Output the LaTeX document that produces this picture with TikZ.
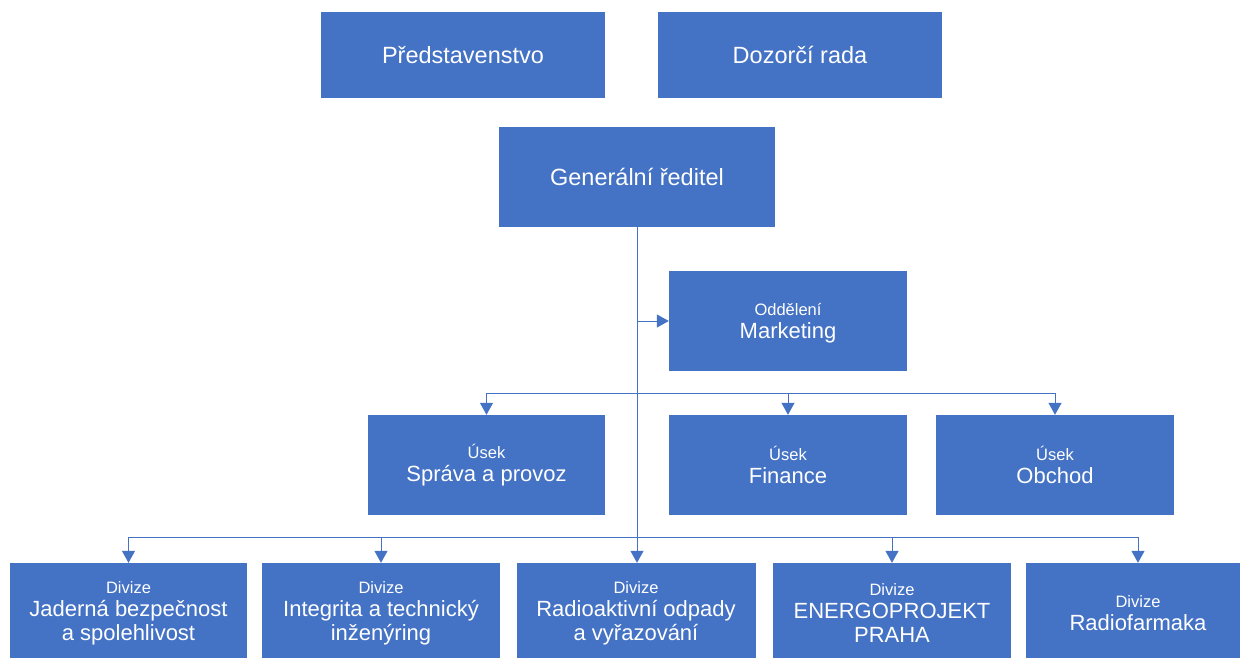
\documentclass[tikz,border=0pt]{standalone}
\usepackage{fontspec}
\setmainfont{Liberation Sans}
\usetikzlibrary{arrows.meta}
\definecolor{boxblue}{HTML}{4472C4}
\definecolor{lineblue}{HTML}{4472C4}
\tikzset{
  orgbox/.style={fill=boxblue, text=white, inner sep=0pt, align=center,
    minimum width=#1, minimum height=100pt, font=\fontsize{22}{26}\selectfont},
  topbox/.style={orgbox=#1, minimum height=86pt, font=\fontsize{23.5}{28}\selectfont},
  conn/.style={draw=lineblue, line width=1pt, -{Triangle[width=13pt,length=12pt]}},
  bus/.style={draw=lineblue, line width=1pt},
}
\newcommand{\smalllbl}[1]{{\fontsize{16.5}{20}\selectfont #1}}
\begin{document}
\begin{tikzpicture}[x=1pt,y=-1pt]
\useasboundingbox (0,0) rectangle (1240,657);
\clip (0,0) rectangle (1240,657);
% top
\node[topbox=284pt] (pred) at (463,55) {Představenstvo};
\node[topbox=284pt] (dozor) at (800,55) {Dozorčí rada};
\node[orgbox=276pt, font=\fontsize{23.5}{28}\selectfont] (gr) at (637,177) {Generální ředitel};
% marketing
\node[orgbox=238pt] (mkt) at (788,321) {};
\node[align=center, text=white, inner sep=0pt, font=\fontsize{22}{26}\selectfont] (mktlbl) at ([yshift=-2pt]mkt.center) {\smalllbl{Oddělení}\\[-3pt]Marketing};
% useky
\node[orgbox=237pt] (sprava) at (486.5,465) {\smalllbl{Úsek}\\[-3pt]Správa a provoz};
\node[orgbox=238pt] (fin) at (788,465) {\smalllbl{Úsek}\\[-3pt]Finance};
\node[orgbox=238pt] (obch) at (1055,465) {\smalllbl{Úsek}\\[-3pt]Obchod};
% divize
\node[orgbox=237pt] (d1) at (128.5,613) {\smalllbl{Divize}\\[-3pt]Jaderná bezpečnost\\[-2pt]a spolehlivost};
\node[orgbox=238pt] (d2) at (381,613) {\smalllbl{Divize}\\[-3pt]Integrita a technický\\[-2pt]inženýring};
\node[orgbox=239pt] (d3) at (636,613) {\smalllbl{Divize}\\[-3pt]Radioaktivní odpady\\[-2pt]a vyřazování};
\node[orgbox=238pt] (d4) at (892,613) {\smalllbl{Divize}\\[-3pt]ENERGOPROJEKT\\[-2pt]PRAHA};
\node[orgbox=224pt] (d5) at (1138,613) {\smalllbl{Divize}\\[-3pt]Radiofarmaka};
% connectors
\coordinate (ub) at (637,393);
\coordinate (db) at (637,537);
\draw[conn] (gr.south) -- (gr.south |- d3.north);
\draw[conn] (gr.south |- mkt.west) -- (mkt.west);
\draw[bus] (sprava.north |- ub) -- (obch.north |- ub);
\draw[conn] (sprava.north |- ub) -- (sprava.north);
\draw[conn] (fin.north |- ub) -- (fin.north);
\draw[conn] (obch.north |- ub) -- (obch.north);
\draw[bus] (d1.north |- db) -- (d5.north |- db);
\draw[conn] (d1.north |- db) -- (d1.north);
\draw[conn] (d2.north |- db) -- (d2.north);
\draw[conn] (d4.north |- db) -- (d4.north);
\draw[conn] (d5.north |- db) -- (d5.north);
\end{tikzpicture}
\end{document}
